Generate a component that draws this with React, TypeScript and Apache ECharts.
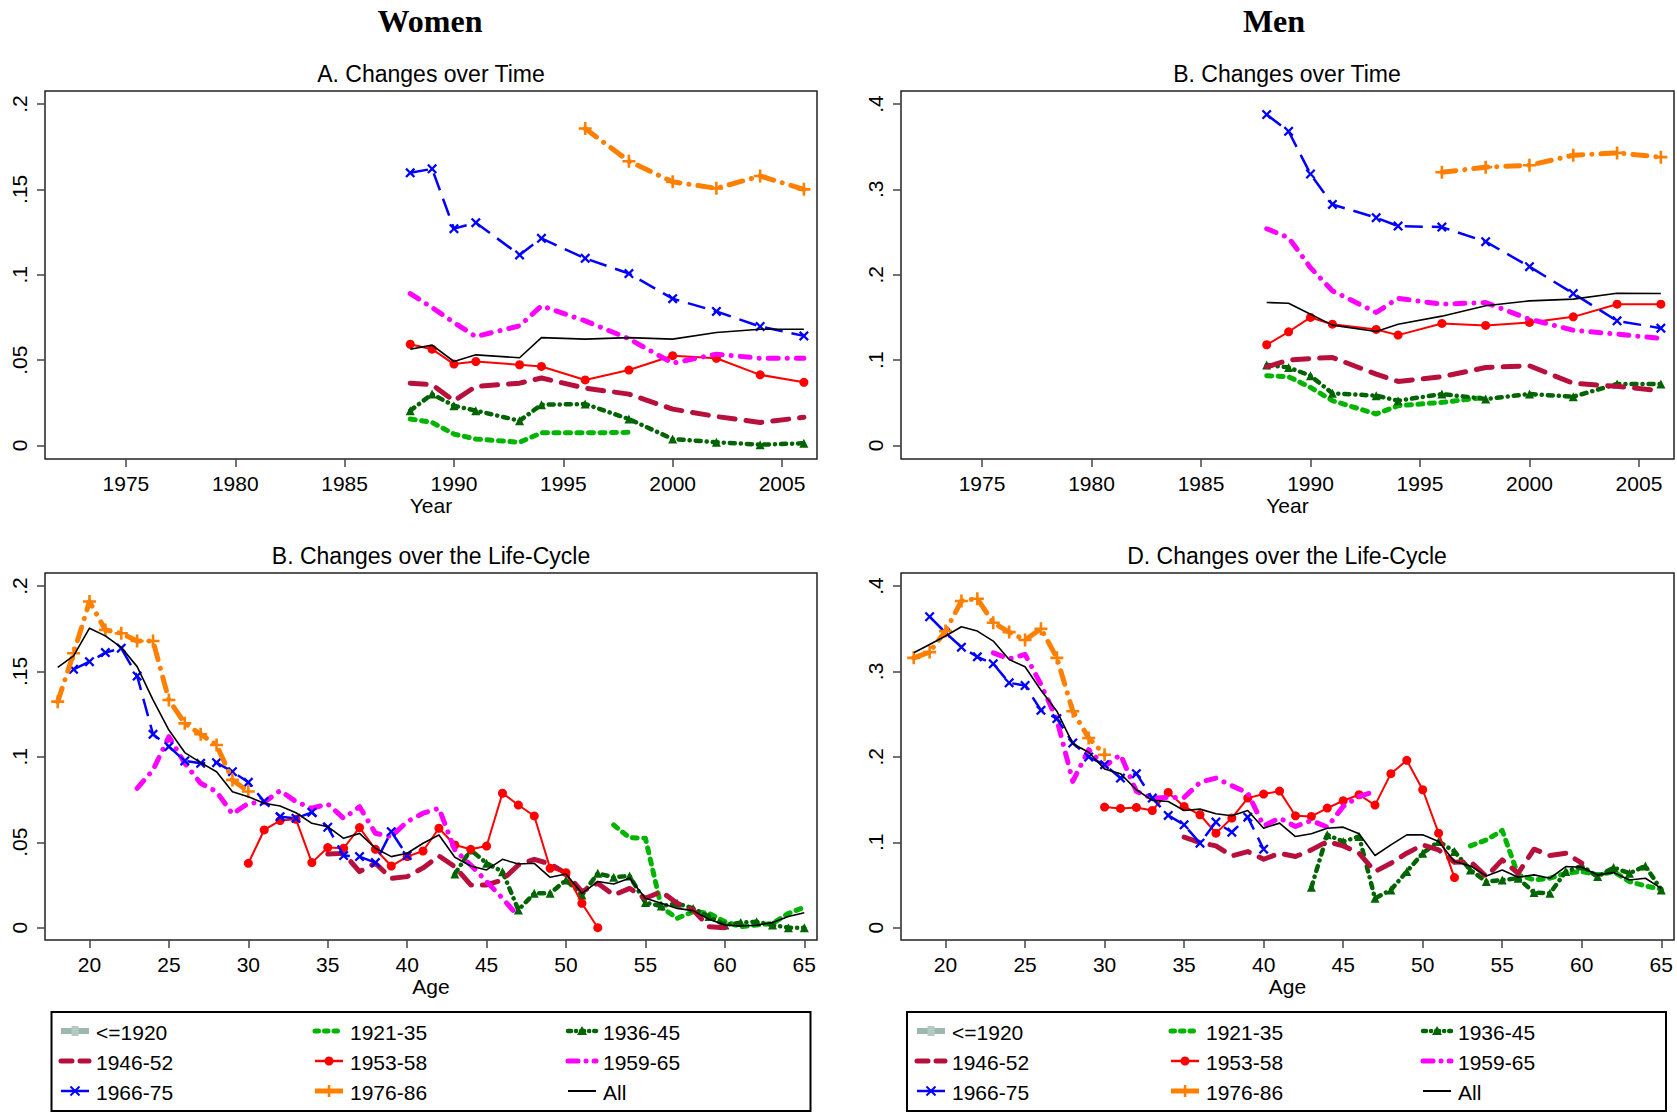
import React, { useEffect, useRef } from 'react';
import * as echarts from 'echarts';

// ---------- categories ----------
const COHORTS = ['<=1920', '1921-35', '1936-45', '1946-52', '1953-58', '1959-65', '1966-75', '1976-86', 'All'];
const YEARS = [1988, 1989, 1990, 1991, 1993, 1994, 1996, 1998, 2000, 2002, 2004, 2006];
const YEARS_1921_35 = [1988, 1989, 1990, 1991, 1993, 1994, 1996, 1998];
const YEARS_1976_86 = [1996, 1998, 2000, 2002, 2004, 2006];

// first age of each cohort in the life-cycle panels (same order as COHORTS)
const START_AGE = [18, 53, 43, 35, 30, 23, 19, 18, 18];

// ---------- tick labels ----------
const YEAR_TICKS = [1975, 1980, 1985, 1990, 1995, 2000, 2005];
const AGE_TICKS = [20, 25, 30, 35, 40, 45, 50, 55, 60, 65];
const WOMEN_Y_TICKS = [0, 0.05, 0.1, 0.15, 0.2];
const MEN_Y_TICKS = [0, 0.1, 0.2, 0.3, 0.4];

// legend layout: three columns of cohort names
const LEGEND_COLS = [
  ['<=1920', '1946-52', '1966-75'],
  ['1921-35', '1953-58', '1976-86'],
  ['1936-45', '1959-65', 'All'],
];

// ---------- Women, A. Changes over Time ----------
const wA_1921_35 = [0.0155, 0.0135, 0.0067, 0.0038, 0.0019, 0.0074, 0.0074, 0.0077];
const wA_1936_45 = [0.0204, 0.0301, 0.0233, 0.0204, 0.0145, 0.0239, 0.0243, 0.0155, 0.0038, 0.0019, 0.0005, 0.0013];
const wA_1946_52 = [0.0365, 0.0356, 0.0262, 0.0346, 0.0365, 0.0395, 0.0336, 0.0301, 0.0213, 0.017, 0.0135, 0.0165];
const wA_1953_58 = [0.0593, 0.0564, 0.0477, 0.0492, 0.0473, 0.0463, 0.0384, 0.0442, 0.0526, 0.0511, 0.0414, 0.037];
const wA_1959_65 = [0.089, 0.0808, 0.072, 0.0638, 0.0701, 0.0818, 0.073, 0.0625, 0.0482, 0.0535, 0.0511, 0.0511];
const wA_1966_75 = [0.1597, 0.162, 0.127, 0.1305, 0.1116, 0.1213, 0.1096, 0.1007, 0.086, 0.0785, 0.0697, 0.0642];
const wA_1976_86 = [0.1856, 0.1665, 0.1544, 0.1506, 0.1578, 0.15];
const wA_All = [0.0564, 0.0588, 0.0492, 0.0531, 0.0514, 0.0632, 0.0623, 0.0632, 0.0623, 0.0662, 0.0681, 0.0681];

// ---------- Men, B. Changes over Time ----------
const mB_1921_35 = [0.0817, 0.0806, 0.0681, 0.0525, 0.0369, 0.0466, 0.0505, 0.0564];
const mB_1936_45 = [0.0942, 0.0915, 0.0817, 0.0611, 0.0584, 0.0525, 0.0603, 0.0545, 0.0603, 0.0572, 0.072, 0.072];
const mB_1946_52 = [0.0922, 0.1, 0.1019, 0.1031, 0.0836, 0.075, 0.0806, 0.0914, 0.0934, 0.0728, 0.0693, 0.0642];
const mB_1953_58 = [0.118, 0.1332, 0.15, 0.1421, 0.1359, 0.1293, 0.143, 0.1406, 0.1441, 0.1507, 0.1655, 0.1655];
const mB_1959_65 = [0.2539, 0.2434, 0.2083, 0.1811, 0.1558, 0.1724, 0.1655, 0.1674, 0.148, 0.135, 0.1305, 0.1254];
const mB_1966_75 = [0.3876, 0.368, 0.318, 0.2823, 0.2668, 0.257, 0.2558, 0.2387, 0.2095, 0.178, 0.146, 0.1374];
const mB_1976_86 = [0.32, 0.326, 0.3283, 0.34, 0.3427, 0.3377];
const mB_All = [0.1675, 0.1667, 0.1538, 0.141, 0.1336, 0.1421, 0.1515, 0.1636, 0.1694, 0.1714, 0.1784, 0.178];

// ---------- Women, Changes over the Life-Cycle ----------
const wC_1921_35 = [0.0601, 0.0527, 0.0523, 0.012, 0.0055, 0.0094, 0.0084, 0.0035, 0.0006, 0.0016, 0.0025, 0.0084, 0.0119];
const wC_1936_45 = [0.0314, 0.0455, 0.0377, 0.0328, 0.0104, 0.0201, 0.0201, 0.0279, 0.0191, 0.0318, 0.0295, 0.0303, 0.0147, 0.0127, 0.0143, 0.0113, 0.0065, 0.0016, 0.003, 0.0035, 0.0016, 0.0, 0.0];
const wC_1946_52 = [0.0431, 0.0435, 0.0328, 0.0377, 0.0289, 0.0299, 0.035, 0.042, 0.0357, 0.025, 0.025, 0.0279, 0.0367, 0.04, 0.0373, 0.0318, 0.0211, 0.026, 0.0191, 0.023, 0.0172, 0.0211, 0.0143, 0.0104, 0.0006, 0.0];
const wC_1953_58 = [0.0377, 0.0572, 0.0627, 0.0634, 0.0381, 0.0469, 0.0465, 0.0586, 0.0459, 0.0361, 0.0416, 0.0449, 0.0582, 0.0484, 0.0459, 0.0478, 0.0787, 0.0718, 0.0654, 0.0348, 0.0322, 0.0143, 0.0];
const wC_1959_65 = [0.0816, 0.0923, 0.1118, 0.0962, 0.0845, 0.0796, 0.0666, 0.0728, 0.0734, 0.0802, 0.0738, 0.0699, 0.0724, 0.064, 0.0708, 0.0553, 0.0533, 0.0621, 0.067, 0.0699, 0.0455, 0.0367, 0.027, 0.0172, 0.0065];
const wC_1966_75 = [0.1512, 0.1557, 0.161, 0.1636, 0.1473, 0.1132, 0.106, 0.0976, 0.0962, 0.0966, 0.0913, 0.0851, 0.0738, 0.065, 0.064, 0.0675, 0.0588, 0.0422, 0.0416, 0.0381, 0.0562, 0.0422];
const wC_1976_86 = [0.1323, 0.1606, 0.1909, 0.1743, 0.1723, 0.1678, 0.1678, 0.1333, 0.1196, 0.1132, 0.1069, 0.0865, 0.0797];
const wC_All = [0.1524, 0.1591, 0.1753, 0.1708, 0.1641, 0.1528, 0.1333, 0.1157, 0.1025, 0.0966, 0.0913, 0.0796, 0.0767, 0.0728, 0.0712, 0.0673, 0.0611, 0.0591, 0.0523, 0.0552, 0.0465, 0.0416, 0.0436, 0.0494, 0.0543, 0.0412, 0.0361, 0.0338, 0.04, 0.0373, 0.0377, 0.0295, 0.0314, 0.0201, 0.027, 0.0256, 0.0289, 0.0172, 0.0143, 0.0113, 0.01, 0.0049, 0.0016, 0.001, 0.0014, 0.003, 0.0065, 0.0088];

// ---------- Men, D. Changes over the Life-Cycle ----------
const mD_1921_35 = [0.0958, 0.1028, 0.1138, 0.0618, 0.0559, 0.0579, 0.0637, 0.0657, 0.0618, 0.0657, 0.054, 0.0489, 0.045];
const mD_1936_45 = [0.0473, 0.1087, 0.1009, 0.1067, 0.0344, 0.0442, 0.0657, 0.0872, 0.1009, 0.0891, 0.0676, 0.054, 0.0559, 0.0579, 0.0411, 0.0403, 0.0657, 0.0723, 0.0598, 0.0704, 0.0637, 0.0723, 0.0442];
const mD_1946_52 = [0.106, 0.0997, 0.0958, 0.084, 0.0891, 0.0801, 0.0872, 0.0833, 0.0911, 0.1009, 0.0958, 0.0872, 0.0657, 0.0754, 0.0872, 0.0969, 0.0911, 0.0766, 0.0774, 0.0598, 0.0794, 0.0637, 0.0919, 0.0845, 0.0872, 0.0755];
const mD_1953_58 = [0.1412, 0.1396, 0.1408, 0.1372, 0.1584, 0.1419, 0.1322, 0.1107, 0.1283, 0.1517, 0.1564, 0.1599, 0.131, 0.1302, 0.14, 0.1486, 0.1556, 0.1435, 0.1803, 0.1959, 0.1615, 0.1107, 0.0587];
const mD_1959_65 = [0.3218, 0.3148, 0.3198, 0.2847, 0.2436, 0.1713, 0.2084, 0.1889, 0.2025, 0.1595, 0.1517, 0.1525, 0.1525, 0.1701, 0.1752, 0.1662, 0.1576, 0.1193, 0.1283, 0.1185, 0.1255, 0.1177, 0.1419, 0.1537, 0.1595];
const mD_1966_75 = [0.364, 0.3453, 0.3284, 0.3171, 0.3089, 0.2866, 0.2835, 0.2545, 0.2448, 0.2162, 0.1998, 0.1908, 0.1752, 0.1803, 0.1517, 0.1314, 0.1204, 0.0989, 0.1236, 0.1118, 0.1294, 0.0919];
const mD_1976_86 = [0.3159, 0.3226, 0.3472, 0.3824, 0.3851, 0.357, 0.346, 0.3367, 0.35, 0.3159, 0.2534, 0.2221, 0.2025];
const mD_All = [0.3218, 0.3316, 0.3414, 0.3523, 0.3472, 0.3355, 0.314, 0.3054, 0.278, 0.2534, 0.2154, 0.2053, 0.1857, 0.1803, 0.1615, 0.149, 0.1478, 0.1372, 0.1388, 0.1333, 0.131, 0.1372, 0.1165, 0.1224, 0.1067, 0.1099, 0.1165, 0.1177, 0.1099, 0.0845, 0.097, 0.1087, 0.1087, 0.1009, 0.0774, 0.0723, 0.0606, 0.0676, 0.059, 0.0618, 0.0579, 0.0716, 0.0708, 0.0618, 0.0645, 0.0559, 0.0579, 0.0461];

// ---------- styles ----------
const FONT = '"Liberation Sans", Arial, sans-serif';
const X_PATH = 'path://M0,1.6L1.6,0L5,3.4L8.4,0L10,1.6L6.6,5L10,8.4L8.4,10L5,6.6L1.6,10L0,8.4L3.4,5Z';
const PLUS_PATH = 'path://M4,0H6V4H10V6H6V10H4V6H0V4H4Z';

type St = { color: string; width: number; type: any; cap: string; symbol: string; size?: number; mark: string; legendDash: number[] | null };
const STYLES: St[] = [
  { color: '#9DB8B0', width: 6, type: 'solid', cap: 'round', symbol: 'rect', size: 9, mark: 'rect', legendDash: null },
  { color: '#00B400', width: 5, type: [5, 6.5], cap: 'round', symbol: 'none', mark: 'none', legendDash: [3.5, 6] },
  { color: '#006400', width: 4.5, type: [5, 6, 0.1, 6], cap: 'round', symbol: 'triangle', size: 9, mark: 'triangle', legendDash: [3, 5, 0.1, 5] },
  { color: '#B8103C', width: 5, type: [16, 11], cap: 'round', symbol: 'none', mark: 'none', legendDash: [11, 8] },
  { color: '#FF0000', width: 2, type: 'solid', cap: 'butt', symbol: 'circle', size: 9, mark: 'circle', legendDash: null },
  { color: '#FF00FF', width: 5, type: [10, 9, 0.1, 9], cap: 'round', symbol: 'none', mark: 'none', legendDash: [10, 8, 0.1, 8] },
  { color: '#0000FF', width: 2.5, type: [18, 9], cap: 'butt', symbol: X_PATH, size: 10, mark: 'x', legendDash: null },
  { color: '#FF8000', width: 5, type: [14, 9, 0.1, 9], cap: 'round', symbol: PLUS_PATH, size: 13, mark: 'plus', legendDash: null },
  { color: '#000000', width: 1.6, type: 'solid', cap: 'butt', symbol: 'none', mark: 'none', legendDash: null },
];

function pairsByX(xs: number[], ys: number[]) {
  return ys.map((y, i) => [xs[i], y]);
}
function pairsByAge(start: number, ys: number[]) {
  return ys.map((y, i) => [start + i, y]);
}

const YEAR_SETS = [YEARS, YEARS_1921_35, YEARS, YEARS, YEARS, YEARS, YEARS, YEARS_1976_86, YEARS];
const yearPanel = (v: number[][]) => v.map((vals, i) => (vals.length ? pairsByX(YEAR_SETS[i], vals) : []));
const agePanel = (v: number[][]) => v.map((vals, i) => pairsByAge(START_AGE[i], vals));

const PANEL_DATA: number[][][][] = [
  yearPanel([[], wA_1921_35, wA_1936_45, wA_1946_52, wA_1953_58, wA_1959_65, wA_1966_75, wA_1976_86, wA_All]),
  yearPanel([[], mB_1921_35, mB_1936_45, mB_1946_52, mB_1953_58, mB_1959_65, mB_1966_75, mB_1976_86, mB_All]),
  agePanel([[], wC_1921_35, wC_1936_45, wC_1946_52, wC_1953_58, wC_1959_65, wC_1966_75, wC_1976_86, wC_All]),
  agePanel([[], mD_1921_35, mD_1936_45, mD_1946_52, mD_1953_58, mD_1959_65, mD_1966_75, mD_1976_86, mD_All]),
];

const GRIDS = [
  { left: 45, top: 91, width: 772, height: 368 },
  { left: 901, top: 91, width: 773, height: 368 },
  { left: 45, top: 573, width: 772, height: 367 },
  { left: 901, top: 573, width: 773, height: 367 },
];

const yFmt = (v: number) => (v === 0 ? '0' : String(v).replace(/^0\./, '.'));

function legendMarker(s: St, cx: number, cy: number): any[] {
  const c = s.color;
  switch (s.mark) {
    case 'circle':
      return [{ type: 'circle', silent: true, shape: { cx, cy, r: 4.5 }, style: { fill: c } }];
    case 'triangle':
      return [{ type: 'polygon', silent: true, shape: { points: [[cx, cy - 5], [cx + 5, cy + 4], [cx - 5, cy + 4]] }, style: { fill: c } }];
    case 'x':
      return [
        { type: 'line', silent: true, shape: { x1: cx - 4.5, y1: cy - 4.5, x2: cx + 4.5, y2: cy + 4.5 }, style: { stroke: c, lineWidth: 2 } },
        { type: 'line', silent: true, shape: { x1: cx - 4.5, y1: cy + 4.5, x2: cx + 4.5, y2: cy - 4.5 }, style: { stroke: c, lineWidth: 2 } },
      ];
    case 'plus':
      return [{ type: 'line', silent: true, shape: { x1: cx, y1: cy - 6, x2: cx, y2: cy + 6 }, style: { stroke: c, lineWidth: 2.5 } }];
    case 'rect':
      return [{ type: 'rect', silent: true, shape: { x: cx - 3.5, y: cy - 5, width: 7, height: 10 }, style: { fill: '#B5C9C3' } }];
    default:
      return [];
  }
}

function buildLegend(iconLefts: number[], boxX: number): any[] {
  const rows = [1031, 1061, 1091];
  const out: any[] = [
    { type: 'rect', silent: true, shape: { x: boxX, y: 1012, width: 759, height: 99 }, style: { fill: 'none', stroke: '#000', lineWidth: 2 } },
  ];
  LEGEND_COLS.forEach((col, ci) => {
    col.forEach((name, ri) => {
      const s = STYLES[COHORTS.indexOf(name)];
      const x0 = iconLefts[ci];
      const y = rows[ri];
      const lw = s.mark === 'x' || s.mark === 'circle' ? 2.5 : s.mark === 'none' && name === 'All' ? 2 : s.width;
      out.push({
        type: 'line',
        silent: true,
        shape: { x1: x0 + 3, y1: y, x2: x0 + 31, y2: y },
        style: { stroke: s.color, lineWidth: lw, lineDash: s.legendDash || undefined, lineCap: s.legendDash ? 'round' : 'butt' },
      });
      out.push(...legendMarker(s, x0 + 17, y));
      out.push({
        type: 'text',
        silent: true,
        x: x0 + 38,
        y: y + 1,
        style: { text: name, fill: '#000', fontSize: 21, fontFamily: FONT, align: 'left', verticalAlign: 'middle' },
      });
    });
  });
  return out;
}

function buildOption() {
  const grid = GRIDS.map((g) => ({ ...g, show: true, borderColor: '#222', borderWidth: 1.5, backgroundColor: 'transparent' }));
  const xAxis = GRIDS.map((_, i) => {
    const isYear = i < 2;
    const ticks = isYear ? YEAR_TICKS : AGE_TICKS;
    return {
      type: 'value',
      gridIndex: i,
      min: isYear ? 1971.3 : 17.2,
      max: isYear ? 2006.6 : 65.8,
      splitLine: { show: false },
      axisLine: { show: false, onZero: false },
      axisTick: { show: true, length: 8, lineStyle: { color: '#444', width: 1.5 }, customValues: ticks },
      axisLabel: { customValues: ticks, fontSize: 21, fontFamily: FONT, color: '#000', margin: 14, formatter: (v: number) => String(v) },
      name: isYear ? 'Year' : 'Age',
      nameLocation: 'middle',
      nameGap: 36,
      nameTextStyle: { fontSize: 21, fontFamily: FONT, color: '#000' },
    };
  });
  const yAxis = GRIDS.map((_, i) => {
    const isMen = i % 2 === 1;
    const top = i < 2;
    const ticks = isMen ? MEN_Y_TICKS : WOMEN_Y_TICKS;
    const scale = isMen ? 2 : 1;
    return {
      type: 'value',
      gridIndex: i,
      min: (top ? -0.0079 : -0.0072) * scale,
      max: 0.2076 * scale,
      splitLine: { show: false },
      axisLine: { show: false, onZero: false },
      axisTick: { show: true, length: 8, lineStyle: { color: '#444', width: 1.5 }, customValues: ticks },
      axisLabel: { customValues: ticks, rotate: 90, fontSize: 21, fontFamily: FONT, color: '#000', margin: 15, formatter: yFmt },
    };
  });

  const series: any[] = [];
  PANEL_DATA.forEach((panel, g) => {
    panel.forEach((data, c) => {
      const s = STYLES[c];
      series.push({
        type: 'line',
        name: COHORTS[c],
        xAxisIndex: g,
        yAxisIndex: g,
        data,
        symbol: s.symbol,
        symbolSize: s.size ?? 8,
        showSymbol: s.symbol !== 'none',
        lineStyle: { color: s.color, width: s.width, type: s.type, cap: s.cap, join: 'round' },
        itemStyle: { color: s.color },
        silent: true,
        z: 2 + c,
        emphasis: { disabled: true },
      });
    });
  });

  const txt = (text: string, x: number, y: number, size: number, serif = false) => ({
    type: 'text',
    x,
    y,
    silent: true,
    style: {
      text,
      fill: '#000',
      fontSize: size,
      fontFamily: serif ? '"Liberation Serif", "Times New Roman", serif' : FONT,
      fontWeight: serif ? 'bold' : 'normal',
      align: 'center',
      verticalAlign: 'middle',
    },
  });

  const graphic = [
    txt('Women', 430, 21, 32, true),
    txt('Men', 1274, 21, 32, true),
    txt('A. Changes over Time', 431, 74, 23),
    txt('B. Changes over Time', 1287, 74, 23),
    txt('B. Changes over the Life-Cycle', 431, 556, 23),
    txt('D. Changes over the Life-Cycle', 1287, 556, 23),
    ...buildLegend([58, 312, 565], 51.5),
    ...buildLegend([914, 1168, 1420], 907),
  ];

  return {
    animation: false,
    backgroundColor: '#fff',
    grid,
    xAxis,
    yAxis,
    series,
    graphic,
  };
}

export default function App() {
  const ref = useRef<HTMLDivElement>(null);
  useEffect(() => {
    if (!ref.current) return;
    const chart = echarts.init(ref.current, null, { renderer: 'svg' });
    chart.setOption(buildOption() as any);
    return () => chart.dispose();
  }, []);
  return <div ref={ref} style={{ position: 'absolute', left: 0, top: 0, width: 1677, height: 1113 }} />;
}
